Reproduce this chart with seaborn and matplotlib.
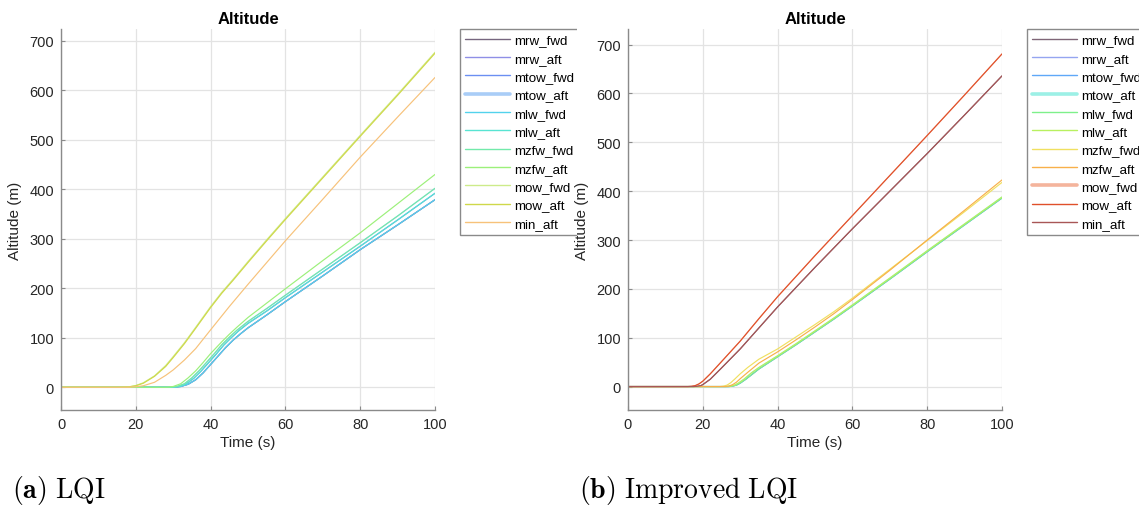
import numpy as np
import pandas as pd
import matplotlib
matplotlib.use("Agg")
import matplotlib.pyplot as plt
from matplotlib.lines import Line2D
from matplotlib.patches import Rectangle
import seaborn as sns

# ---------------- data ----------------
series_names = ["mrw_fwd", "mrw_aft", "mtow_fwd", "mtow_aft", "mlw_fwd", "mlw_aft",
                "mzfw_fwd", "mzfw_aft", "mow_fwd", "mow_aft", "min_aft"]

# (a) LQI
L_mow_t = [0, 15, 18, 20, 22, 25, 28, 30, 33, 36, 40, 43, 46, 50, 55, 60, 70, 80, 90, 100]
L_mow_aft = [0, 0, 0.5, 3, 8, 22, 42, 60, 88, 119, 161, 190, 216, 252, 296, 339, 423, 507, 590, 675]
L_mow_fwd = [0, 0, 0.6, 3.5, 9, 23, 44, 62, 90, 121, 163, 192, 218, 254, 298, 341, 425, 509, 592, 677]
L_min_t = [0, 18, 20, 22, 25, 28, 30, 33, 36, 40, 45, 50, 55, 60, 70, 80, 90, 100]
L_min_aft = [0, 0, 1, 3, 10, 24, 35, 55, 78, 116, 163, 208, 252, 296, 380, 465, 546, 626]
L_A_t = [0, 28, 30, 32, 34, 36, 38, 40, 43, 45, 47, 50, 55, 60, 70, 80, 90, 100]
L_A = [0, 0, 1.5, 7, 19, 33, 50, 68, 92, 107, 121, 141, 170, 199, 256, 312, 371, 430]
L_B_t = [0, 29, 31, 33, 35, 37, 39, 41, 43, 45, 47, 50, 55, 60, 70, 80, 90, 100]
L_B = [0, 0, 1.5, 7, 19, 34, 51, 68, 86, 101, 115, 133, 159, 186, 239, 292, 346, 402]
L_C_t = [0, 29.5, 31.5, 33.5, 35.5, 37.5, 39.5, 41.5, 43.5, 45.5, 47.5, 50, 55, 60, 70, 80, 90, 100]
L_C = [0, 0, 1.5, 7, 18, 33, 50, 67, 85, 100, 114, 129, 154, 181, 233, 285, 338, 392]
L_D_t = [0, 30, 32, 34, 36, 38, 40, 42, 44, 46, 48, 50, 55, 60, 70, 80, 90, 100]
L_D = [0, 0, 1.5, 6, 15, 29, 46, 63, 80, 95, 108, 120, 146, 173, 225, 278, 328, 379]

# (b) Improved LQI
R_mow_t = [0, 16, 17, 18, 19, 20, 22, 25, 30, 35, 40, 50, 60, 70, 80, 90, 100]
R_mow = [0, 0, 0.5, 2, 5.5, 11, 26, 51, 93, 139, 184, 268, 350, 432, 514, 597, 681]
R_min_t = [0, 17.5, 18.5, 19.5, 20, 22, 25, 30, 35, 40, 50, 60, 70, 80, 90, 100]
R_min = [0, 0, 0.5, 2, 4, 15, 38, 77, 120, 163, 244, 323, 400, 477, 556, 636]
R_mzfwf_t = [0, 24.5, 25.5, 26.5, 27.5, 28.5, 30, 32, 35, 40, 45, 50, 55, 60, 70, 80, 90, 100]
R_mzfwf = [0, 0, 0.8, 3, 8, 15, 26, 39, 56, 77, 102, 127, 153, 181, 240, 299, 358, 418]
R_mzfwa_t = [0, 26, 27, 28, 29, 30, 32, 35, 40, 45, 50, 55, 60, 70, 80, 90, 100]
R_mzfwa = [0, 0, 1, 4, 9, 16, 29, 48, 71, 96, 122, 149, 178, 238, 300, 361, 423]
R_mlwa_t = [0, 26.5, 27.5, 28.5, 29.5, 31, 33, 35, 40, 45, 50, 55, 60, 70, 80, 90, 100]
R_mlwa = [0, 0, 1, 3, 7, 15, 28, 39, 63, 88, 114, 140, 167, 222, 278, 333, 388]
R_mlwf_t = [0, 27, 28, 29, 30, 31.5, 33, 35, 40, 45, 50, 55, 60, 70, 80, 90, 100]
R_mlwf = [0, 0, 1, 3, 7, 15, 24, 36, 61, 86, 112, 138, 165, 220, 276, 331, 386]

left_map = {
    "mrw_fwd": (L_D_t, L_D), "mrw_aft": (L_D_t, L_D), "mtow_fwd": (L_C_t, L_C),
    "mtow_aft": (L_B_t, L_B), "mlw_fwd": (L_D_t, L_D), "mlw_aft": (L_C_t, L_C),
    "mzfw_fwd": (L_B_t, L_B), "mzfw_aft": (L_A_t, L_A), "mow_fwd": (L_mow_t, L_mow_fwd),
    "mow_aft": (L_mow_t, L_mow_aft), "min_aft": (L_min_t, L_min_aft),
}
right_map = {
    "mrw_fwd": (R_min_t, R_min), "mrw_aft": (R_mlwf_t, R_mlwf), "mtow_fwd": (R_mlwf_t, R_mlwf),
    "mtow_aft": (R_mlwa_t, R_mlwa), "mlw_fwd": (R_mlwf_t, R_mlwf), "mlw_aft": (R_mlwa_t, R_mlwa),
    "mzfw_fwd": (R_mzfwf_t, R_mzfwf), "mzfw_aft": (R_mzfwa_t, R_mzfwa), "mow_fwd": (R_mow_t, R_mow),
    "mow_aft": (R_mow_t, R_mow), "min_aft": (R_min_t, R_min),
}

left_colors = ["#76667f", "#8f8fe6", "#6b8ff2", "#a9cdf7", "#52d2ec", "#58e4d2",
               "#72eaaa", "#9cf07a", "#cdeb8a", "#cfd84a", "#f7c27a"]
right_colors = ["#7f6677", "#95a5f0", "#5fa8f8", "#9cf0e6", "#7ef08a", "#b8f060",
                "#f0e060", "#f8b04a", "#f4b49c", "#e0502a", "#a85656"]
left_thick = ["mtow_aft"]
right_thick = ["mtow_aft", "mow_fwd"]

captions = [r"$\mathbf{(a)}\ \mathrm{LQI}$", r"$\mathbf{(b)}\ \mathrm{Improved\ LQI}$"]


def build(mapping):
    rows = []
    for name in series_names:
        ts, ys = mapping[name]
        for t, y in zip(ts, ys):
            rows.append((name, t, y))
    return pd.DataFrame(rows, columns=["series", "t", "alt"])


# ---------------- style ----------------
sns.set_theme(style="whitegrid")
plt.rcParams["font.family"] = ["Liberation Sans", "DejaVu Sans"]
plt.rcParams["mathtext.fontset"] = "cm"

fig = plt.figure(figsize=(11.39, 5.06), dpi=100)
ax_l = fig.add_axes([61 / 1139, 95 / 506, 374 / 1139, 381 / 506])
ax_r = fig.add_axes([628 / 1139, 95 / 506, 374 / 1139, 381 / 506])
ax_r.set_zorder(20)

panels = [(ax_l, left_map, left_colors, left_thick, (-46, 724), 61),
          (ax_r, right_map, right_colors, right_thick, (-48, 732), 628)]

for i, (ax, mp, cols, thick, ylim, x0) in enumerate(panels):
    df = build(mp)
    pal = dict(zip(series_names, cols))
    sns.lineplot(data=df, x="t", y="alt", hue="series", hue_order=series_names,
                 palette=pal, estimator=None, sort=True, linewidth=0.85,
                 legend=False, ax=ax)
    ax.set_xlim(0, 100)
    ax.set_ylim(*ylim)
    ax.set_xticks(np.arange(0, 101, 20))
    ax.set_yticks(np.arange(0, 701, 100))
    ax.set_facecolor("white")
    ax.grid(True, color="#e3e3e3", linewidth=0.9)
    for s in ["top", "right"]:
        ax.spines[s].set_visible(False)
    for s in ["left", "bottom"]:
        ax.spines[s].set_color("#8a8a8a")
        ax.spines[s].set_linewidth(1.0)
    ax.tick_params(direction="in", length=3, width=0.8, color="#8a8a8a",
                   labelsize=10.5, labelcolor="#262626", pad=5,
                   left=True, bottom=True)
    ax.set_title("Altitude", fontsize=12, fontweight="bold", color="black", pad=4)
    ax.set_xlabel("Time (s)", fontsize=11, color="#262626", labelpad=3)
    ax.set_ylabel("Altitude (m)", fontsize=11, color="#262626", labelpad=5)

    handles = [Line2D([], [], color=c, lw=(2.6 if n in thick else 1.0))
               for n, c in zip(series_names, cols)]
    leg = ax.legend(handles, series_names, loc="upper left",
                    bbox_to_anchor=(1.067, 1.0), borderaxespad=0,
                    fontsize=9.6, frameon=True, fancybox=False, framealpha=1,
                    edgecolor="#8a8a8a", handlelength=3.4, handletextpad=0.3,
                    labelspacing=0.45, borderpad=0.38)
    leg.get_frame().set_linewidth(1.0)
    for txt in leg.get_texts():
        txt.set_color("black")

    fig.text((x0 - 49) / 1139, 8 / 506, captions[i], fontsize=20,
             ha="left", va="baseline", color="black")

# clip the left legend where the first sub-figure ends
fig.patches.append(Rectangle((577 / 1139, 0.45), 9 / 1139, 0.55,
                             transform=fig.transFigure, facecolor="white",
                             edgecolor="none", zorder=10))

fig.savefig("out.png", dpi=100, facecolor="white")
